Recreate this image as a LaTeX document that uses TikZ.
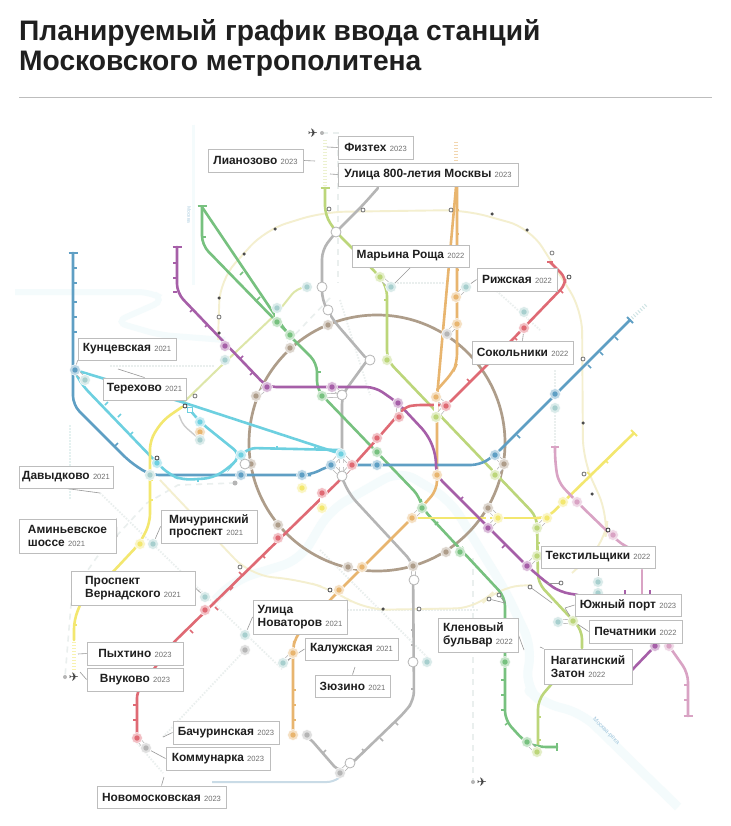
\documentclass[tikz,border=0pt]{standalone}
\usepackage{fontspec}
\setmainfont{Liberation Sans}
\newfontfamily\planefont{DejaVu Sans}
\usetikzlibrary{calc}
\definecolor{cblue}{HTML}{5F9FC4}
\definecolor{ccyan}{HTML}{6DD0E0}
\definecolor{cpurple}{HTML}{A65FA8}
\definecolor{cgreen}{HTML}{77C17F}
\definecolor{clime}{HTML}{BCD67A}
\definecolor{cred}{HTML}{DF6A74}
\definecolor{corange}{HTML}{E8B56F}
\definecolor{cgrey}{HTML}{B5B5B5}
\definecolor{cbrown}{HTML}{AE9D8A}
\definecolor{cyell}{HTML}{F3E76F}
\definecolor{cpink}{HTML}{D9A3C4}
\definecolor{cteal}{HTML}{A7CFCE}
\definecolor{cpale}{HTML}{F4EFCF}
\definecolor{cmoss}{HTML}{DDE6A8}
\definecolor{criver}{HTML}{F4FBFC}
\definecolor{cghost}{HTML}{EAEFEE}
\definecolor{cframe}{HTML}{BDBDBD}
\definecolor{cyear}{HTML}{6F6F6F}
\pgfdeclarelayer{lines}\pgfdeclarelayer{conn}
\pgfsetlayers{lines,conn,main}
\tikzset{
 ln/.style={line width=2.6pt,rounded corners=9pt,line cap=round,draw=#1},
 thinln/.style={line width=1.9pt,rounded corners=22pt,draw=#1},
 ghost/.style={line width=1.8pt,dash pattern=on 1.5pt off 1.5pt,draw=cghost},
 ghostdash/.style={line width=1.6pt,dash pattern=on 6pt off 5pt,draw=#1},
 lead/.style={line width=.6pt,draw=cframe!80!black},
 labbox/.style={draw=cframe,line width=.9pt,fill=white,inner sep=0pt,align=left,font=\fontsize{11.9}{12.6}\selectfont\bfseries,text=black!88},
 stat/.style={circle,inner sep=0pt,minimum size=11pt,fill=#1!42!white,draw=white,line width=.5pt},
 whitest/.style={circle,inner sep=0pt,minimum size=10pt,fill=white,draw=cgrey,line width=.8pt},
 smallst/.style={circle,inner sep=0pt,minimum size=3.5pt,fill=#1,draw=none},
 openst/.style={circle,inner sep=0pt,minimum size=4pt,fill=white,draw=#1,line width=.8pt},
 plane/.style={font=\planefont\fontsize{12}{12}\selectfont,text=black!75,inner sep=0pt}
}
\newcommand{\yr}[1]{{\fontsize{7.6}{8}\selectfont\mdseries\color{cyear}#1}}
\newcommand{\st}[4]{\node[stat=#4] (#1) at (#2,#3) {};\fill[#4] (#1.center) circle (2.7pt);}
\newcommand{\wst}[3]{\node[whitest] (#1) at (#2,#3) {};}
\newcommand{\tr}[2]{\begin{pgfonlayer}{conn}\draw[line width=4.6pt,cgrey] (#1.center)--(#2.center);\draw[line width=3.2pt,white] (#1.center)--(#2.center);\end{pgfonlayer}}
\newcommand{\lab}[6]{\pgfmathsetmacro{\lw}{#4-#2}\pgfmathsetmacro{\lh}{#5-#3}\pgfmathsetmacro{\lx}{(#4+#2)/2}\pgfmathsetmacro{\ly}{(#5+#3)/2}\node[labbox,minimum width=\lw pt,minimum height=\lh pt] (#1) at (\lx,\ly) {#6};}
\newcommand{\lead}[2]{\begin{pgfonlayer}{conn}\draw[lead] (#1)--(#2);\end{pgfonlayer}}
\newcommand{\ticks}[2]{\begin{pgfonlayer}{lines}\foreach \tx/\ty/\tdx/\tdy in {#2}{\draw[#1,line width=1.5pt] (\tx,\ty)--++(\tdx,\tdy);}\end{pgfonlayer}}
\begin{document}
\begin{tikzpicture}[x=1pt,y=-1pt]
\useasboundingbox (0,0) rectangle (730,826);
% title
\node[anchor=west,inner sep=0pt,font=\fontsize{28.2}{30}\selectfont\bfseries,text=black!88] (t1) at (19,33) {Планируемый график ввода станций};
\node[anchor=west,inner sep=0pt,font=\fontsize{28.2}{30}\selectfont\bfseries,text=black!88] (t2) at (19,64) {Московского метрополитена};
\coordinate (ra) at (19,97);\coordinate (rb) at (712,97);
\draw[cframe,line width=.8pt] (ra)--(rb);
\begin{pgfonlayer}{lines}
\fill[white] (0,0) rectangle (730,826);
% river and other faint things
\draw[criver,line width=9pt,line join=round,rounded corners=18pt] (678,807)--(582,713)--(542,703)--(525,687)--(532,647)--(505,590)--(450,500)--(400,470)--(330,510)--(300,560)--(235,580)--(215,600);
\draw[criver,line width=6pt,rounded corners=12pt] (15,292)--(150,292)--(165,300)--(115,322)--(160,335)--(225,340);
\draw[criver,line width=3pt] (193,125)--(193,285);
% faint dotted and dashed future lines
\draw[ghost] (100,493)--(200,590)--(283,670);
\draw[ghost] (163,737)--(245,650);
\draw[ghost] (137,743)--(163,773);
\draw[ghost] (320,550)--(430,660);
\draw[ghost] (320,610)--(478,610);
\draw[ghost] (110,366)--(215,366);
\draw[ghost] (340,300)--(370,395);
\draw[ghost] (555,370)--(555,447);
\draw[ghost] (388,283)--(445,283);
\draw[ghost] (490,285)--(540,330);
\draw[ghost,cteal!30] (70,425)--(70,500);
\draw[ghostdash=cghost] (235,483)--(178,485)--(147,503)--(97,557)--(72,593)--(65,677);
\draw[ghostdash=cghost] (473,558)--(473,782);
\draw[ghostdash=cghost] (322,133)--(338,133)--(338,283);
\draw[ghostdash=cghost] (330,298)--(285,345);
% pale big circle
\draw[thinln=cpale] (218,340)--(220,280)--(265,230)--(323,212)--(465,210)--(530,228)--(582,310)--(583,460)--(608,515)--(605,543)--(572,573);
\draw[thinln=cpale] (532,585)--(498,587)--(478,608)--(365,610)--(333,590)--(300,580)--(250,575)--(160,480);
% moss arc
\draw[line width=2pt,rounded corners=8pt,draw=cmoss] (183,403)--(220,367)--(277,313)--(297,288)--(307,287);
% ring
\draw[cbrown,line width=2.7pt] (377,443) circle (128);
% grey
\draw[ln=cgrey] (378,188)--(363,205)--(336,232)--(322,250)--(322,300)--(333,320)--(365,357);
\draw[ln=cgrey] (366,362)--(342,395)--(342,450);
\draw[ln=cgrey] (342,478)--(350,495)--(413,563)--(414,700)--(405,712)--(350,765)--(340,773)--(307,735)--(293,735);
\draw[line width=2pt,rounded corners=6pt,draw=cgrey!30!cblue!40] (212,782)--(333,782)--(343,775);
\draw[line width=1.4pt,rounded corners=5pt,draw=cgrey!70] (179,415)--(183,425)--(198,438);
% orange
\draw[ln=corange] (456,187)--(437,397)--(437,490)--(412,518)--(330,600)--(295,637)--(293,650)--(293,735);
\draw[ln=corange] (457,187)--(457,363)--(453,372)--(437,390);
% lime
\draw[ln=clime] (325,188)--(325,215)--(336,232)--(352,248)--(380,277)--(387,287)--(387,360)--(537,517)--(538,583)--(582,630)--(582,648);
\draw[ln=clime] (555,680)--(538,700)--(538,752);
% green
\draw[ln=cgreen] (202,207)--(287,333)--(317,363)--(317,390)--(420,497)--(422,508)--(505,597)--(505,720)--(525,742)--(537,747)--(557,747);
\draw[ln=cgreen] (202,207)--(202,245)--(277,322)--(290,335);
% blue
\draw[ln=cblue] (73,253)--(73,405)--(130,462)--(150,475)--(302,475)--(310,475)--(331,465)--(480,465)--(495,455)--(630,320);
% cyan
\draw[ln=ccyan] (75,370)--(185,403)--(341,454);
\draw[ln=ccyan] (75,372)--(82,385)--(157,463)--(170,475)--(183,480)--(213,478)--(230,467)--(241,455)--(200,422)--(190,410);
\draw[ln=ccyan,rounded corners=6pt] (241,455)--(250,448)--(341,450);
% yellow
\draw[ln=cyell] (182,407)--(163,420)--(150,440)--(150,523)--(140,543)--(110,575);
\draw[ln=cyell] (80,605)--(74,620)--(74,640);
\draw[ln=cyell] (412,518)--(537,518);
\draw[ln=cyell] (537,518)--(547,518)--(634,433);
% pink
\draw[ln=cpink] (555,447)--(555,460)--(558,482)--(578,503)--(608,532)--(625,547)--(642,552);
\draw[ln=cpink] (642,570)--(642,600);
\draw[ln=cpink] (669,646)--(688,673)--(688,716);
% purple
\draw[ln=cpurple] (177,247)--(177,293)--(267,387)--(375,387)--(398,403)--(428,435)--(436,455)--(436,475)--(527,566)--(547,583)--(560,592)--(578,595);
\draw[ln=cpurple] (632,670)--(655,646);
% red
\draw[ln=cred,rounded corners=6pt] (550,262)--(565,277)--(565,285)--(512,340)--(447,405)--(415,405)--(405,407)--(378,438)--(340,480)--(173,643)--(137,692)--(137,738);
% caps
\foreach \cx/\cy/\cc in {73/253/cblue,177/247/cpurple,202/206/cgreen,325/188/clime,688/716/cpink}{
 \draw[\cc,line width=2pt] (\cx-4.5,\cy)--(\cx+4.5,\cy);}
\draw[cgreen,line width=2pt] (557,743)--(557,751);
\draw[cblue,line width=2pt] (627,317)--(633,323);
\draw[cyell,line width=2pt] (631,430)--(637,436);
\draw[cred,line width=2pt] (547,262)--(553,262);
\draw[cpink,line width=2pt] (551,447)--(559,447);
% ladder extensions
\foreach \lx/\ly/\lxx/\lyy/\lc in {325/140/325/186/cmoss,456/142/456/186/corange,632/318/646/305/cteal,74/642/74/672/cyell}{
 \draw[\lc!55,line width=3.5pt,dash pattern=on 1pt off 2pt] (\lx,\ly)--(\lxx,\lyy);}
\end{pgfonlayer}
\ticks{cblue}{73/268/4/0,73/283/4/0,73/302/4/0,73/317/4/0,73/332/4/0,115/446/3/-3,555/398/-3/-3,517/435/3/3,588/365/3/3,600/352/3/3,615/337/3/3}
\ticks{cpurple}{177/263/-4/0,177/278/-4/0,177/292/-4/0,190/312/3/-3,205/327/3/-3,240/359/3/-3,250/375/3/-3,460/500/3/-3,505/545/-3/3,625/590/0/4,650/590/0/4}
\ticks{cgreen}{202/237/4/0,240/275/3/-3,257/300/3/-3,317/372/4/0,505/680/-4/0,505/695/-4/0,505/710/-4/0,505/725/4/-3,435/525/3/-3,460/550/3/-3}
\ticks{ccyan}{105/405/3/-3,118/417/3/-3,130/435/3/-3,198/482/0/-3,277/449/0/-3,315/450/0/-3}
\ticks{cred}{560/290/3/3,517/340/-3/-3,470/382/-3/-3,262/555/3/3,242/575/-3/-3,230/590/3/-3,215/607/3/3,190/630/3/3,137/705/-4/0,137/720/-4/0}
\ticks{corange}{456/210/3/0,456/234/3/0,456/270/3/0,456/346/3/0,293/650/3/0,293/690/3/0,293/705/3/0,293/720/3/0}
\ticks{clime}{387/300/-3/0,538/717/3/0,538/740/3/0,537/543/3/0}
\ticks{cyell}{150/480/3/0,150/500/3/0,74/625/3/0,590/475/-3/-3,605/460/3/3}
\ticks{cpink}{688/685/-4/0,688/700/-4/0}
\ticks{cgrey}{414/630/-3/0,414/645/-3/0,414/689/-3/0,395/722/3/3,380/738/3/3,365/752/-3/-3,323/753/3/-3}
% stations
\st{kun}{75}{370}{cblue}\st{kunb}{85}{380}{cteal}
\st{p1}{225}{346}{cpurple}\st{p2}{225}{360}{cteal}
\st{p3}{267}{387}{cpurple}\st{p4}{256}{396}{cbrown}
\st{p5}{332}{387}{cpurple}\st{g1}{322}{396}{cgreen}\wst{w1}{342}{395}
\st{g2}{277}{308}{cteal}\st{g3}{277}{322}{cgreen}
\st{g4}{290}{335}{cgreen}\st{g5}{290}{348}{cbrown}
\st{m1}{307}{287}{cteal}\wst{w2}{322}{287}
\st{b1}{328}{325}{cbrown}\wst{w3}{328}{310}
\wst{w4}{336}{232}
\st{c1}{200}{422}{ccyan}\st{c2}{200}{432}{corange}\st{c3}{200}{440}{cteal}
\node[draw=ccyan,fill=white,line width=1pt,inner sep=0pt,minimum size=5pt] (csq) at (190,410) {};
\node[openst=black!75] (cop) at (185,406) {};
\st{c4}{241}{455}{ccyan}\st{c5}{341}{454}{ccyan}
\st{c6}{157}{463}{ccyan}\node[openst=black!75] (s4) at (157,458) {};
\st{bl1}{150}{475}{cteal}
\st{bl2}{241}{475}{cblue}\st{br1}{251}{464}{cbrown}\wst{w5}{245}{464}
\node[circle,inner sep=0pt,minimum size=5pt,fill=cgrey] (dend) at (235,483) {};
\st{bl3}{302}{475}{cblue}\st{y1}{302}{488}{cyell}
\st{bl4}{331}{465}{cblue}\wst{w6}{342}{476}\st{r1}{352}{465}{cred}
\st{r2}{322}{493}{cred}\st{y2}{322}{508}{cyell}
\st{br2}{278}{525}{cbrown}\st{r3}{278}{538}{cred}
\st{y3}{140}{544}{cyell}\st{t1s}{153}{544}{cteal}
\st{t2s}{205}{597}{cteal}\st{r4}{205}{610}{cred}
\st{t3s}{245}{635}{cteal}\st{gy1}{245}{650}{cgrey}
\st{o1}{293}{653}{corange}\st{t4s}{283}{663}{cteal}
\st{o2}{293}{735}{corange}\st{gy2}{307}{735}{cgrey}
\st{r5}{137}{738}{cred}\st{gy3}{146}{748}{cgrey}
\st{gy4}{340}{773}{cgrey}\wst{w7}{350}{763}
\st{br3}{348}{567}{cbrown}\st{o3}{362}{567}{corange}
\st{o4}{339}{590}{corange}\node[openst=black!70] (o4b) at (330,590) {};\tr{o4}{o4b}
\st{br4}{413}{566}{cbrown}\wst{w8}{414}{580}
\wst{w9}{413}{662}\st{t5s}{427}{662}{cteal}
\st{g6}{505}{662}{cgreen}
\st{o5}{412}{518}{corange}\st{g7}{422}{508}{cgreen}
\st{br5}{488}{508}{cbrown}\st{p6}{488}{528}{cpurple}\st{y4}{498}{518}{cyell}
\st{p7}{437}{475}{corange}
\st{bl5}{495}{455}{cblue}\st{br6}{504}{464}{cbrown}\st{l1}{495}{475}{clime}
\st{br7}{446}{552}{cbrown}\st{g8}{460}{552}{cgreen}
\st{l2}{537}{528}{clime}\st{y5}{547}{518}{cyell}
\st{l3}{537}{556}{clime}\st{p8}{527}{566}{cpurple}
\st{y6}{563}{502}{cyell}\st{pk1}{577}{502}{cpink}
\st{pk2}{613}{535}{cpink}\node[openst=black!80] (pk2b) at (608,530) {};
\st{t6s}{598}{582}{cteal}\st{t7s}{598}{593}{cteal}
\st{t8s}{558}{622}{cteal}\st{l4}{573}{621}{clime}
\st{p9}{655}{646}{cpurple}\st{pk3}{669}{646}{cpink}
\st{g9}{527}{742}{cgreen}\st{l5}{537}{752}{clime}
\st{l6}{380}{277}{clime}\st{t9s}{391}{287}{cteal}
\st{o6}{456}{297}{corange}\st{t10s}{466}{287}{cteal}
\st{gy5}{447}{334}{cgrey}\st{o7}{457}{324}{corange}
\st{t11s}{524}{312}{cteal}\st{r6}{524}{328}{cred}
\st{o8}{436}{397}{corange}\st{l7}{436}{417}{clime}\st{r7}{446}{406}{cred}
\st{p10}{398}{403}{cpurple}\st{r8}{399}{417}{cred}
\st{r9}{377}{438}{cred}\st{g10}{377}{452}{cgreen}\st{bl7}{377}{465}{cblue}
\wst{w10}{370}{360}\st{l8}{387}{360}{clime}
\st{bl6}{555}{394}{cblue}\st{t12s}{555}{408}{cteal}
% small and open stops
\node[openst=black!70] (rz) at (569,277) {};
\node[openst=black!50] (rt) at (552,253) {};
\node[smallst=black!70] (d1) at (275,229) {};
\node[smallst=black!70] (d2) at (244,254) {};
\node[smallst=black!70] (d3) at (219,298) {};
\node[smallst=black!70] (d4) at (219,333) {};
\node[smallst=black!70] (d5) at (492,214) {};
\node[smallst=black!70] (d6) at (527,230) {};
\node[smallst=black!70] (d7) at (583,423) {};
\node[smallst=black!70] (d8) at (592,494) {};
\node[smallst=black!70] (d9) at (383,609) {};
\node[openst=black!55] (s1) at (219,317) {};
\node[openst=black!55] (s2) at (195,396) {};
\node[openst=black!55] (s5) at (451,210) {};
\node[openst=black!55] (s6) at (583,359) {};
\node[openst=black!55] (s7) at (363,210) {};
\node[openst=black!55] (s8) at (329,209) {};
\node[openst=black!55] (s9) at (240,567) {};
\node[openst=black!55] (s11) at (419,609) {};
\node[openst=black!55] (s12) at (499,595) {};
\node[openst=black!55] (s13) at (489,599) {};
\node[openst=black!55] (s14) at (530,587) {};
\node[openst=black!55] (s15) at (561,583) {};
\node[openst=black!55] (s16) at (584,474) {};
\coordinate (k1) at (552,603);\coordinate (k2) at (547,583);\coordinate (k3) at (505,603);
\begin{pgfonlayer}{conn}
\draw[lead] (s14)--(k1);\draw[lead] (s15)--(k2);\draw[lead] (s13)--(k3);\draw[lead] (s12)--(k3);
\end{pgfonlayer}
\tr{kun}{kunb}\tr{p1}{p2}\tr{p3}{p4}\tr{p5}{w1}\tr{g1}{w1}\tr{g2}{g3}\tr{g4}{g5}\tr{m1}{w2}\tr{b1}{w3}
\tr{c1}{c2}\tr{c2}{c3}\tr{bl2}{c4}\tr{w5}{br1}\tr{bl3}{y1}\tr{c5}{bl4}\tr{c5}{r1}\tr{bl4}{w6}\tr{r1}{w6}\tr{c5}{w6}\tr{bl4}{r1}\tr{r2}{y2}\tr{br2}{r3}\tr{y3}{t1s}\tr{t2s}{r4}\tr{t3s}{gy1}\tr{o1}{t4s}\tr{o2}{gy2}\tr{r5}{gy3}\tr{gy4}{w7}\tr{br3}{o3}\tr{br4}{w8}\tr{w9}{t5s}\tr{o5}{g7}\tr{br5}{p6}\tr{br5}{y4}\tr{p6}{y4}\tr{bl5}{br6}\tr{br6}{l1}\tr{bl5}{l1}\tr{br7}{g8}\tr{l2}{y5}\tr{l3}{p8}\tr{y6}{pk1}\tr{t6s}{t7s}\tr{t8s}{l4}\tr{p9}{pk3}\tr{g9}{l5}\tr{l6}{t9s}\tr{o6}{t10s}\tr{gy5}{o7}\tr{t11s}{r6}\tr{o8}{l7}\tr{o8}{r7}\tr{l7}{r7}\tr{p10}{r8}\tr{r9}{g10}\tr{g10}{bl7}\tr{w10}{l8}\tr{bl6}{t12s}
% planes
\node[plane] (a1) at (313,133) {✈};
\node[plane] (a2) at (74,677) {✈};
\node[plane] (a3) at (482,782) {✈};
\node[circle,inner sep=0pt,minimum size=4pt,fill=cgrey] (a1d) at (322,133) {};
\node[circle,inner sep=0pt,minimum size=4pt,fill=cgrey] (a2d) at (65,677) {};
\node[circle,inner sep=0pt,minimum size=4pt,fill=cgrey] (a3d) at (473,782) {};
% faint labels
\node[rotate=-90,font=\fontsize{5}{5}\selectfont,text=cblue!50,inner sep=0pt] (rv1) at (189,215) {Москва};
\node[rotate=-45,font=\fontsize{6}{6}\selectfont,text=cblue!60,inner sep=0pt] (rv2) at (606,731) {Москва-река};
% labels
\lab{fiz}{338}{136}{413}{159}{Физтех \yr{2023}}
\lab{lia}{208}{149}{303}{172}{Лианозово \yr{2023}}
\lab{u800}{338}{163}{518}{186}{Улица 800-летия Москвы \yr{2023}}
\lab{mar}{352}{245}{469}{267}{Марьина Роща \yr{2022}}
\lab{rig}{477}{268}{557}{291}{Рижская \yr{2022}}
\lab{kunl}{78}{338}{176}{360}{Кунцевская \yr{2021}}
\lab{ter}{103}{378}{186}{400}{Терехово \yr{2021}}
\lab{sok}{472}{341}{573}{364}{Сокольники \yr{2022}}
\lab{dav}{19}{466}{113}{488}{Давыдково \yr{2021}}
\lab{ami}{19}{519}{116}{553}{Аминьевское\\шоссе \yr{2021}}
\lab{mic}{161}{510}{257}{543}{Мичуринский\\проспект \yr{2021}}
\lab{ver}{71}{571}{195}{605}{Проспект\\Вернадского \yr{2021}}
\lab{nov}{253}{600}{347}{634}{Улица\\Новаторов \yr{2021}}
\lab{pyh}{87}{642}{183}{665}{Пыхтино \yr{2023}}
\lab{vnu}{87}{668}{183}{691}{Внуково \yr{2023}}
\lab{kal}{305}{638}{398}{660}{Калужская \yr{2021}}
\lab{zyu}{315}{675}{390}{697}{Зюзино \yr{2021}}
\lab{bac}{173}{721}{279}{744}{Бачуринская \yr{2023}}
\lab{kom}{166}{747}{270}{770}{Коммунарка \yr{2023}}
\lab{nmo}{97}{786}{226}{808}{Новомосковская \yr{2023}}
\lab{tek}{541}{546}{655}{568}{Текстильщики \yr{2022}}
\lab{yuz}{575}{594}{681}{616}{Южный порт \yr{2023}}
\lab{pec}{589}{620}{682}{643}{Печатники \yr{2022}}
\lab{kle}{438}{618}{518}{652}{Кленовый\\бульвар \yr{2022}}
\lab{nag}{544}{649}{632}{684}{Нагатинский\\Затон \yr{2022}}
% leaders
\coordinate (e1) at (327,147);\coordinate (e2) at (315,161);\coordinate (e3) at (330,174);
\coordinate (e4) at (118,369);\coordinate (e5) at (100,493);\coordinate (e6) at (117,537);
\coordinate (e7) at (78,654);\coordinate (e8) at (80,672);\coordinate (e9) at (163,737);
\coordinate (e10) at (164,777);\coordinate (e11) at (355,667);\coordinate (e12) at (524,650);\coordinate (e13) at (540,647);\coordinate (e14) at (565,608);
\lead{fiz.west}{e1}\lead{lia.east}{e2}\lead{u800.west}{e3}
\lead{mar.south}{t9s}\lead{rig.west}{t10s}\lead{kunl.south west}{kun}\lead{ter.north}{e4}
\lead{sok.north}{r6}\lead{dav.south}{e5}\lead{ami.north east}{e6}\lead{mic.west}{t1s}
\lead{ver.east}{t2s}\lead{nov.west}{t3s}\lead{kal.west}{t4s}\lead{zyu.north}{e11}
\lead{pyh.west}{e7}\lead{vnu.west}{e8}\lead{bac.west}{e9}\lead{kom.west}{gy3}\lead{nmo.north}{e10}
\lead{tek.south}{t6s}\lead{yuz.west}{e14}\lead{e14}{l4}\lead{pec.west}{l4}\lead{kle.east}{e12}\lead{nag.north west}{e13}
\end{tikzpicture}
\end{document}
